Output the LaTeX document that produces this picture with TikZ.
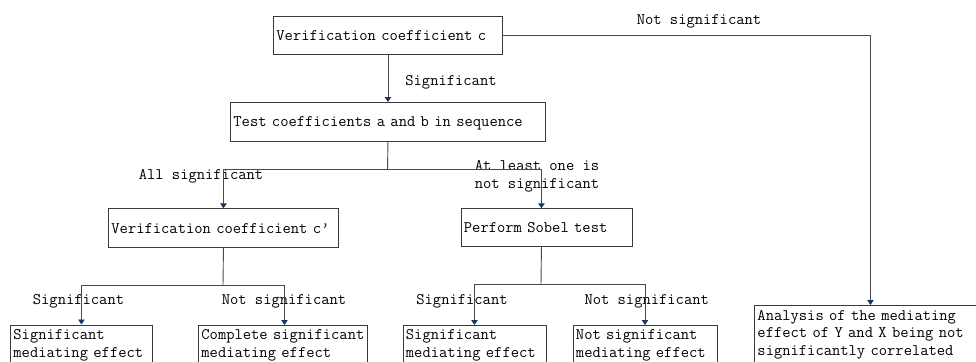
\documentclass[tikz,border=0pt]{standalone}
\usepackage{fontspec}
\usetikzlibrary{arrows.meta,calc}
\definecolor{linegray}{HTML}{4A4A4A}
\definecolor{boxgray}{HTML}{3A3A3A}
\definecolor{tipblue}{HTML}{17375E}
\tikzset{
  every node/.style={font=\fontsize{16.1pt}{17.6pt}\selectfont\ttfamily},
  onebox/.style={draw=boxgray, line width=0.9pt, anchor=north west, align=left,
    inner xsep=3pt, inner ysep=0pt, text height=9.8pt, text depth=0pt},
  twobox/.style={draw=boxgray, line width=0.9pt, anchor=north west, align=left,
    inner xsep=3pt, inner ysep=4.5pt, text depth=40pt},
  lbl/.style={anchor=base, inner sep=0pt},
  wire/.style={draw=linegray, line width=0.9pt},
  conn/.style={wire, -{Triangle[length=5pt,width=6.5pt,color=tipblue]}},
}
\begin{document}
\begin{tikzpicture}[x=1pt,y=-1pt]
\useasboundingbox (0,0) rectangle (976,361);
% boxes
\node[onebox, text width=223pt, minimum height=38.5pt] (c) at (273,16) {Verification coefficient c};
\node[onebox, text width=309pt, minimum height=38.7pt] (t) at (230,102) {Test coefficients a and b in sequence};
\node[onebox, text width=224pt, minimum height=39pt] (cp) at (108,208.3) {Verification coefficient c’};
\node[onebox, text width=165pt, minimum height=38pt] (sob) at (460.5,208.3) {Perform Sobel test};
\node[twobox, text width=136pt] (b1) at (10,324.5) {Significant\\mediating effect};
\node[twobox, text width=163pt] (b2) at (198,325) {Complete significant\\mediating effect};
\node[twobox, text width=137pt] (b3) at (402.5,325) {Significant\\mediating effect};
\node[twobox, text width=138pt] (b4) at (572.5,325) {Not significant\\mediating effect};
\node[twobox, text width=226pt] (an) at (754,305) {Analysis of the mediating\\effect of Y and X being not\\significantly correlated};
% labels
\node[lbl] (l1) at (451,85) {Significant};
\node[lbl] (l2) at (699,25) {Not significant};
\node[lbl] (l3) at (201,179) {All significant};
\node[lbl, align=center] (l4) at (537,188.5) {At least one is\\not significant};
\node[lbl] (l5) at (78.5,304) {Significant};
\node[lbl] (l6) at (284,304) {Not significant};
\node[lbl] (l7) at (462,304) {Significant};
\node[lbl] (l8) at (646.7,304) {Not significant};
% junctions
\coordinate (j1) at (387.5,169.5);
\coordinate (j2) at (223,285.5);
\coordinate (j3) at (541,284.5);
% connectors
\draw[conn] (c.south) -- (t.north);
\draw[conn] (c.east) -| (an.north);
\draw[wire] (t.south) -- (j1);
\draw[conn] (j1) -| (cp.north);
\draw[conn] (j1) -| ([xshift=-5pt]sob.north);
\draw[wire] ([xshift=-5pt]sob.south) -- (j3);
\draw[conn] (j3) -| (b3.north);
\draw[conn] (j3) -| (b4.north);
\draw[wire] (cp.south) -- (j2);
\draw[conn] (j2) -| (b1.north);
\draw[conn] (j2) -| ([xshift=1.5pt]b2.north);
\end{tikzpicture}
\end{document}
